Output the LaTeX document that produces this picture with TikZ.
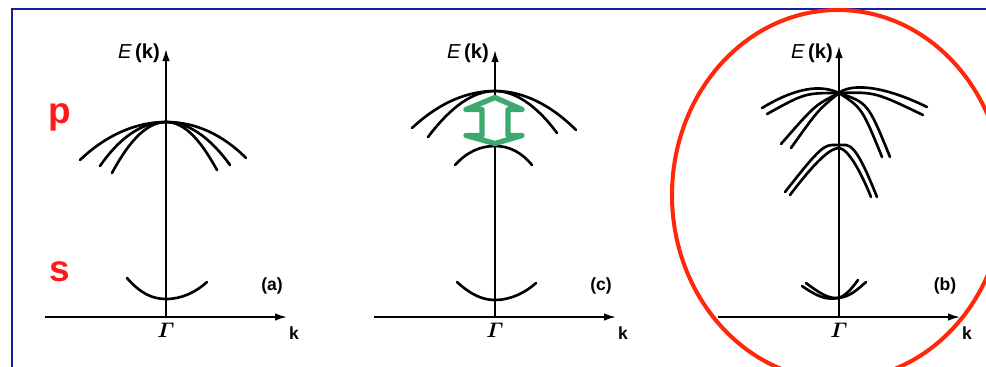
\documentclass[tikz,border=0pt]{standalone}
\usepackage{amsmath}
\usepackage{fontspec}
\setsansfont{Liberation Sans}
\usetikzlibrary{arrows.meta}
\definecolor{frameblue}{RGB}{25,30,150}
\definecolor{ringred}{RGB}{255,40,10}
\definecolor{orbred}{RGB}{255,25,25}
\definecolor{gapgreen}{RGB}{60,170,110}

\begin{document}
\begin{tikzpicture}[
    x=0.02cm, y=-0.02cm,
    axis/.style={-{Latex[length=2.4mm,width=1.5mm]}, line width=1pt},
    band/.style={line width=1.5pt, line cap=round},
    axlabel/.style={font=\sffamily\bfseries\fontsize{10}{12}\selectfont, inner sep=0pt},
    gammalabel/.style={font=\fontsize{13}{14}\selectfont, inner sep=0pt},
    orbital/.style={font=\sffamily\bfseries\fontsize{21}{24}\selectfont, text=orbred, inner sep=0pt},
    gap/.style={draw=gapgreen, line width=3pt, line join=round, fill=white},
    ring/.style={draw=ringred, line width=2.3pt}
]
\useasboundingbox (0,0) rectangle (986,366);
\clip (0,0) rectangle (986,366);
\draw[frameblue, line width=1.7pt] (12,372) -- (12,9) -- (992,9);

\foreach \x/\tag/\top in {166/a/49, 495/c/50, 839/b/46}{
  \coordinate (o\tag) at (\x,317);
  \coordinate (t\tag) at (\x,\top);
  \coordinate (l\tag) at (\x-121,317);
  \coordinate (r\tag) at (\x+121,317);
  \draw[axis] (o\tag) -- (t\tag);
  \draw[axis] (l\tag) -- (r\tag);
  \node[axlabel, font=\sffamily\bfseries\fontsize{11.5}{13}\selectfont] (e\tag) at (\x-27,53) {\textmd{\textit{E}}\,(k)};
  \node[gammalabel] (g\tag) at (\x,330) {$\boldsymbol{\varGamma}$};
  \node[axlabel] (k\tag) at (\x+128,333) {k};
  \node[axlabel] (n\tag) at (\x+106,286) {(\tag)};
}
\node[orbital] (porb) at (60,117) {p};
\node[orbital] (sorb) at (60,272) {s};

\draw[band] (80,160) .. controls (105,136) and (135,122) .. (166,122)
  .. controls (196,122) and (223,135) .. (246,158);
\draw[band] (100,166) .. controls (118,140) and (140,122) .. (166,122)
  .. controls (190,122) and (212,140) .. (230,165);
\draw[band] (112,173) .. controls (127,145) and (145,122) .. (166,122)
  .. controls (186,122) and (202,143) .. (217,170);
\draw[band] (127,278) .. controls (140,293) and (152,299) .. (166,299)
  .. controls (182,299) and (196,292) .. (207,282);

\draw[band] (412,128) .. controls (440,102) and (468,91) .. (495,91)
  .. controls (522,91) and (550,104) .. (576,130);
\draw[band] (428,137) .. controls (450,108) and (472,91) .. (495,91)
  .. controls (518,91) and (540,110) .. (557,133);
\draw[band] (455,165) .. controls (467,152) and (480,146) .. (495,146)
  .. controls (510,146) and (522,153) .. (532,165);
\draw[band] (457,282) .. controls (470,294) and (482,300) .. (495,300)
  .. controls (510,300) and (525,293) .. (536,283);
\draw[gap] (495,97.5) -- (522,109.5) -- (508,109.5) -- (508,135.5) -- (522,135.5)
  -- (495,143.5) -- (466,135.5) -- (482,135.5) -- (482,109.5) -- (466,109.5) -- cycle;

\draw[band] (762,108) .. controls (795,88) and (820,84) .. (839,93);
\draw[band] (767,114) .. controls (805,93) .. (839,93);
\draw[band] (839,93) .. controls (850,84) and (880,84) .. (927,107);
\draw[band] (839,93) .. controls (875,92) .. (923,115);
\draw[band] (781,144) .. controls (815,105) .. (839,93);
\draw[band] (791,148) .. controls (818,110) .. (839,93);
\draw[band] (839,93) .. controls (862,108) .. (882,157);
\draw[band] (839,93) .. controls (868,103) .. (890,157);
\draw[band] (785,192) .. controls (812,158) and (822,145) .. (832,145) -- (846,145)
  .. controls (856,146) and (866,170) .. (877,197);
\draw[band] (790,195) .. controls (815,162) and (830,148) .. (839,148)
  .. controls (848,149) and (860,170) .. (871,197);
\draw[band] (802,286) .. controls (818,297) and (826,300) .. (838,298)
  .. controls (846,296) and (852,288) .. (858,280);
\draw[band] (806,283) .. controls (818,292) and (828,299) .. (838,298)
  .. controls (850,297) and (858,289) .. (866,282);

\draw[ring] (838,195) ellipse [x radius=166, y radius=185];
\end{tikzpicture}
\end{document}
